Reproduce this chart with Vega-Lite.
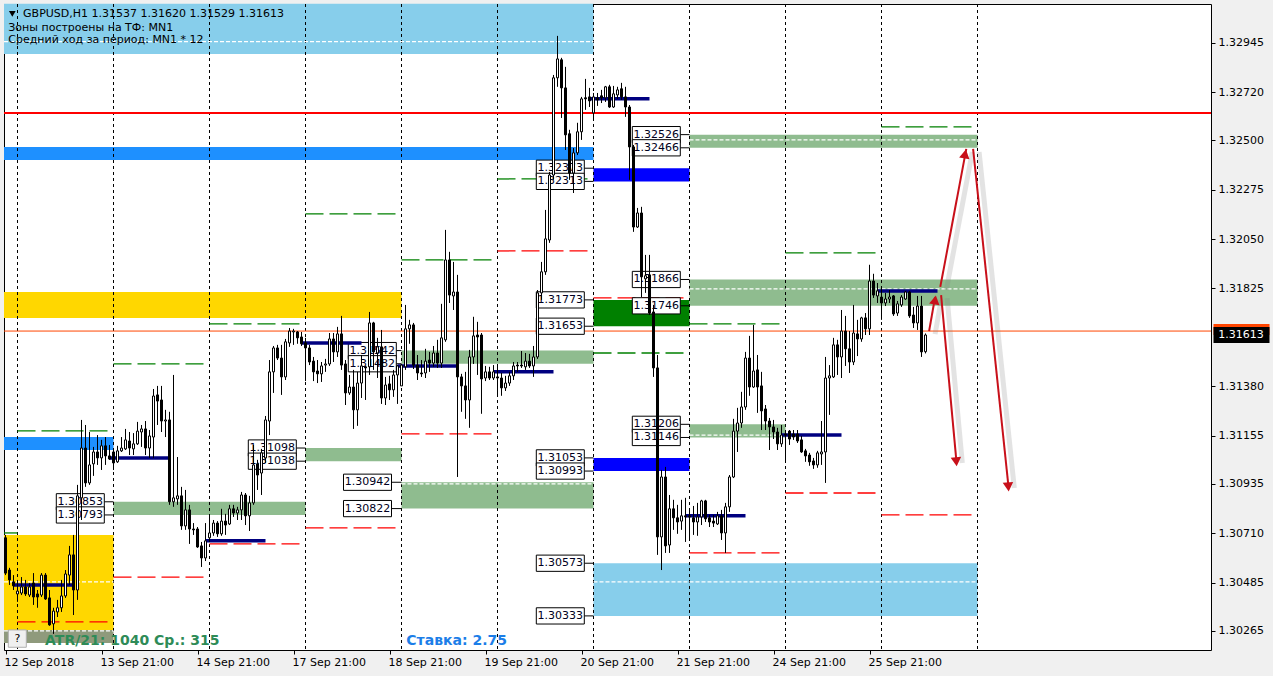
{"$schema":"https://vega.github.io/schema/vega-lite/v6.json","width":1207,"height":646,"autosize":{"type":"none"},"padding":{"left":4,"top":4,"right":62,"bottom":26},"background":"#f0f0f0","config":{"view":{"fill":"white","stroke":"black","strokeWidth":1},"font":"DejaVu Sans"},"resolve":{"scale":{"color":"independent"}},
"datasets":{
"zones":[
{"x1":-3.375,"x2":144,"y1":1.33122,"y2":1.32894,"kind":"sky"},
{"x1":-3.375,"x2":144,"y1":1.3247,"y2":1.32411,"kind":"dodger"},
{"x1":-3.375,"x2":96,"y1":1.31809,"y2":1.31691,"kind":"gold"},
{"x1":-3.375,"x2":24,"y1":1.31148,"y2":1.31089,"kind":"dodger"},
{"x1":-3.375,"x2":24,"y1":1.30702,"y2":1.30269,"kind":"gold"},
{"x1":-3.375,"x2":24,"y1":1.30269,"y2":1.30209,"kind":"olive"},
{"x1":24,"x2":72,"y1":1.30853,"y2":1.30793,"kind":"sage"},
{"x1":72,"x2":96,"y1":1.31098,"y2":1.31038,"kind":"sage"},
{"x1":96,"x2":144,"y1":1.31542,"y2":1.31482,"kind":"sage"},
{"x1":96,"x2":144,"y1":1.30942,"y2":1.30822,"kind":"sage"},
{"x1":144,"x2":168,"y1":1.32373,"y2":1.32313,"kind":"blue"},
{"x1":144,"x2":168,"y1":1.31053,"y2":1.30993,"kind":"blue"},
{"x1":144,"x2":168,"y1":1.31773,"y2":1.31653,"kind":"green"},
{"x1":168,"x2":240,"y1":1.32526,"y2":1.32466,"kind":"sage"},
{"x1":168,"x2":240,"y1":1.31866,"y2":1.31746,"kind":"sage"},
{"x1":168,"x2":192,"y1":1.31206,"y2":1.31146,"kind":"sage"},
{"x1":144,"x2":240,"y1":1.30573,"y2":1.30333,"kind":"sky"}],
"vlines":[{"t":0},{"t":24},{"t":48},{"t":72},{"t":96},{"t":120},{"t":144},{"t":168},{"t":192},{"t":216},{"t":240}],
"levels":[
{"x1":-3.375,"x2":0,"y":1.30711,"kind":"up"},
{"x1":0,"x2":22.5,"y":1.31176,"kind":"up"},{"x1":24,"x2":46.5,"y":1.31481,"kind":"up"},{"x1":48,"x2":70.5,"y":1.31664,"kind":"up"},{"x1":72,"x2":94.5,"y":1.32165,"kind":"up"},{"x1":96,"x2":118.5,"y":1.31955,"kind":"up"},{"x1":120,"x2":142.5,"y":1.32324,"kind":"up"},{"x1":144,"x2":166.5,"y":1.31531,"kind":"up"},{"x1":168,"x2":190.5,"y":1.31664,"kind":"up"},{"x1":192,"x2":214.5,"y":1.31987,"kind":"up"},{"x1":216,"x2":238.5,"y":1.32561,"kind":"up"},
{"x1":0,"x2":22.5,"y":1.30306,"kind":"down"},{"x1":24,"x2":46.5,"y":1.3051,"kind":"down"},{"x1":48,"x2":70.5,"y":1.30661,"kind":"down"},{"x1":72,"x2":94.5,"y":1.30734,"kind":"down"},{"x1":96,"x2":118.5,"y":1.31162,"kind":"down"},{"x1":120,"x2":142.5,"y":1.31996,"kind":"down"},{"x1":144,"x2":166.5,"y":1.31782,"kind":"down"},{"x1":168,"x2":190.5,"y":1.3062,"kind":"down"},{"x1":192,"x2":214.5,"y":1.30893,"kind":"down"},{"x1":216,"x2":238.5,"y":1.30793,"kind":"down"}],
"mids":[{"x1":-3.375,"x2":144,"y":1.3295},{"x1":-3.375,"x2":24,"y":1.30488},{"x1":-3.375,"x2":24,"y":1.30265},{"x1":96,"x2":144,"y":1.30935},{"x1":168,"x2":240,"y":1.32502},{"x1":168,"x2":240,"y":1.31823},{"x1":168,"x2":192,"y":1.31157},{"x1":144,"x2":240,"y":1.30488}],
"navy":[{"x1":-1,"x2":14,"y":1.30474},{"x1":23,"x2":38,"y":1.31053},{"x1":47,"x2":62,"y":1.30675},{"x1":71,"x2":86,"y":1.31577},{"x1":95,"x2":110,"y":1.31472},{"x1":119,"x2":134,"y":1.31445},{"x1":143,"x2":158,"y":1.32689},{"x1":167,"x2":182,"y":1.30789},{"x1":191,"x2":206,"y":1.31157},{"x1":215,"x2":230,"y":1.31814}],
"tags":[
{"x1":9.7,"x2":21.7,"xc":15.7,"z":24,"p":1.30853,"a":1.3089,"b":1.30816},
{"x1":9.7,"x2":21.7,"xc":15.7,"z":24,"p":1.30793,"a":1.3083,"b":1.30756},
{"x1":57.7,"x2":69.7,"xc":63.7,"z":72,"p":1.31098,"a":1.31135,"b":1.31061},
{"x1":57.7,"x2":69.7,"xc":63.7,"z":72,"p":1.31038,"a":1.31075,"b":1.31001},
{"x1":81.5,"x2":93.5,"xc":87.5,"z":96,"p":1.30942,"a":1.30979,"b":1.30905},
{"x1":81.5,"x2":93.5,"xc":87.5,"z":96,"p":1.30822,"a":1.30859,"b":1.30785},
{"x1":82.7,"x2":94.7,"xc":88.7,"z":96,"p":1.31542,"a":1.31579,"b":1.31505},
{"x1":82.7,"x2":94.7,"xc":88.7,"z":96,"p":1.31482,"a":1.31519,"b":1.31445},
{"x1":129.7,"x2":141.7,"xc":135.7,"z":144,"p":1.31773,"a":1.3181,"b":1.31736},
{"x1":129.7,"x2":141.7,"xc":135.7,"z":144,"p":1.31653,"a":1.3169,"b":1.31616},
{"x1":129.7,"x2":141.7,"xc":135.7,"z":144,"p":1.31053,"a":1.3109,"b":1.31016},
{"x1":129.7,"x2":141.7,"xc":135.7,"z":144,"p":1.30993,"a":1.3103,"b":1.30956},
{"x1":129.7,"x2":141.7,"xc":135.7,"z":144,"p":1.32373,"a":1.3241,"b":1.32336},
{"x1":129.7,"x2":141.7,"xc":135.7,"z":144,"p":1.32313,"a":1.3235,"b":1.32276},
{"x1":129.7,"x2":141.7,"xc":135.7,"z":144,"p":1.30573,"a":1.3061,"b":1.30536},
{"x1":129.7,"x2":141.7,"xc":135.7,"z":144,"p":1.30333,"a":1.3037,"b":1.30296},
{"x1":153.7,"x2":165.7,"xc":159.7,"z":168,"p":1.32526,"a":1.32563,"b":1.32489},
{"x1":153.7,"x2":165.7,"xc":159.7,"z":168,"p":1.32466,"a":1.32503,"b":1.32429},
{"x1":153.7,"x2":165.7,"xc":159.7,"z":168,"p":1.31866,"a":1.31903,"b":1.31829},
{"x1":153.7,"x2":165.7,"xc":159.7,"z":168,"p":1.31746,"a":1.31783,"b":1.31709},
{"x1":153.7,"x2":165.7,"xc":159.7,"z":168,"p":1.31206,"a":1.31243,"b":1.31169},
{"x1":153.7,"x2":165.7,"xc":159.7,"z":168,"p":1.31146,"a":1.31183,"b":1.31109}],
"arrows":[{"x1":227.9,"x2":229.4,"y1":1.31631,"y2":1.31786},{"x1":230.7,"x2":237.2,"y1":1.31832,"y2":1.32461},{"x1":238.9,"x2":247.7,"y1":1.32461,"y2":1.3093},{"x1":230.9,"x2":234.7,"y1":1.31795,"y2":1.31044}],
"shadows":[{"x1":229.4,"x2":230.9,"y1":1.31617,"y2":1.31772},{"x1":232.2,"x2":238.7,"y1":1.31818,"y2":1.32447},{"x1":240.4,"x2":249.2,"y1":1.32447,"y2":1.30916},{"x1":232.4,"x2":236.2,"y1":1.31781,"y2":1.3103}],
"headsUp":[{"x":229.4,"y":1.31773},{"x":236.9,"y":1.32438}],
"headsDown":[{"x":247.7,"y":1.30921},{"x":234.7,"y":1.31035}],
"candles":[
{"t":-3,"o":1.30689,"c":1.30528,"h":1.30702,"l":1.30519},{"t":-2,"o":1.30542,"c":1.30497,"h":1.30552,"l":1.30474},{"t":-1,"o":1.30488,"c":1.3047,"h":1.30519,"l":1.30451},
{"t":0,"o":1.30433,"c":1.30446,"h":1.30497,"l":1.30397},{"t":1,"o":1.30437,"c":1.30465,"h":1.3051,"l":1.30428},{"t":2,"o":1.30465,"c":1.30433,"h":1.30497,"l":1.30424},{"t":3,"o":1.30428,"c":1.30465,"h":1.30483,"l":1.30419},{"t":4,"o":1.30483,"c":1.30419,"h":1.30528,"l":1.30383},{"t":5,"o":1.30433,"c":1.30419,"h":1.30451,"l":1.3037},{"t":6,"o":1.30428,"c":1.30519,"h":1.30528,"l":1.30419},{"t":7,"o":1.30519,"c":1.3041,"h":1.30528,"l":1.30406},{"t":8,"o":1.30415,"c":1.30292,"h":1.30451,"l":1.30288},{"t":9,"o":1.30297,"c":1.30355,"h":1.3037,"l":1.30251},
{"t":10,"o":1.30351,"c":1.3037,"h":1.30406,"l":1.30328},{"t":11,"o":1.3037,"c":1.30424,"h":1.30497,"l":1.30351},{"t":12,"o":1.30424,"c":1.30524,"h":1.30542,"l":1.30415},{"t":13,"o":1.30519,"c":1.30611,"h":1.30652,"l":1.30474},{"t":14,"o":1.30611,"c":1.30451,"h":1.30702,"l":1.30337},{"t":15,"o":1.30451,"c":1.3088,"h":1.3093,"l":1.30406},{"t":16,"o":1.30871,"c":1.31098,"h":1.31226,"l":1.3077},{"t":17,"o":1.31098,"c":1.30939,"h":1.31203,"l":1.30921},{"t":18,"o":1.30939,"c":1.31021,"h":1.31171,"l":1.3093},{"t":19,"o":1.31026,"c":1.3108,"h":1.31103,"l":1.30971},
{"t":20,"o":1.3108,"c":1.31053,"h":1.31157,"l":1.31021},{"t":21,"o":1.31053,"c":1.31108,"h":1.31135,"l":1.30998},{"t":22,"o":1.31108,"c":1.31062,"h":1.31148,"l":1.31021},{"t":23,"o":1.31062,"c":1.31048,"h":1.31112,"l":1.31044},{"t":24,"o":1.3108,"c":1.3103,"h":1.31094,"l":1.30998},{"t":25,"o":1.31035,"c":1.31085,"h":1.31108,"l":1.3103},{"t":26,"o":1.31085,"c":1.31098,"h":1.31148,"l":1.3108},{"t":27,"o":1.31094,"c":1.31135,"h":1.31185,"l":1.31089},{"t":28,"o":1.3113,"c":1.31098,"h":1.31171,"l":1.31066},{"t":29,"o":1.31094,"c":1.31117,"h":1.31166,"l":1.31066},
{"t":30,"o":1.31117,"c":1.31175,"h":1.31217,"l":1.31112},{"t":31,"o":1.31171,"c":1.31185,"h":1.31203,"l":1.31103},{"t":32,"o":1.31185,"c":1.31098,"h":1.31221,"l":1.31066},{"t":33,"o":1.31098,"c":1.31153,"h":1.3118,"l":1.31053},{"t":34,"o":1.31148,"c":1.31335,"h":1.31367,"l":1.31053},{"t":35,"o":1.3134,"c":1.31312,"h":1.31381,"l":1.31203},{"t":36,"o":1.31317,"c":1.31221,"h":1.31381,"l":1.31171},{"t":37,"o":1.31221,"c":1.31226,"h":1.31272,"l":1.31148},{"t":38,"o":1.31226,"c":1.30853,"h":1.31263,"l":1.30839},{"t":39,"o":1.30853,"c":1.30871,"h":1.31431,"l":1.3083},
{"t":40,"o":1.30866,"c":1.3088,"h":1.31057,"l":1.30839},{"t":41,"o":1.3088,"c":1.30743,"h":1.30921,"l":1.30725},{"t":42,"o":1.30743,"c":1.30816,"h":1.30907,"l":1.30725},{"t":43,"o":1.30816,"c":1.30729,"h":1.30839,"l":1.30661},{"t":44,"o":1.30729,"c":1.30725,"h":1.30756,"l":1.30702},{"t":45,"o":1.30729,"c":1.30647,"h":1.30738,"l":1.30643},{"t":46,"o":1.30652,"c":1.30597,"h":1.3067,"l":1.30556},{"t":47,"o":1.30597,"c":1.30675,"h":1.30756,"l":1.30583},{"t":48,"o":1.30689,"c":1.30711,"h":1.30788,"l":1.3067},{"t":49,"o":1.30711,"c":1.30756,"h":1.3077,"l":1.30698},
{"t":50,"o":1.30756,"c":1.30707,"h":1.30765,"l":1.30693},{"t":51,"o":1.30707,"c":1.30765,"h":1.30821,"l":1.30698},{"t":52,"o":1.30765,"c":1.30747,"h":1.30798,"l":1.30702},{"t":53,"o":1.30752,"c":1.30821,"h":1.30839,"l":1.30747},{"t":54,"o":1.30821,"c":1.30802,"h":1.30839,"l":1.30784},{"t":55,"o":1.30802,"c":1.30816,"h":1.3083,"l":1.3077},{"t":56,"o":1.30816,"c":1.30884,"h":1.30898,"l":1.3077},{"t":57,"o":1.30884,"c":1.30789,"h":1.30893,"l":1.30747},{"t":58,"o":1.30789,"c":1.30848,"h":1.3088,"l":1.3072},{"t":59,"o":1.30848,"c":1.31021,"h":1.31112,"l":1.30839},
{"t":60,"o":1.31026,"c":1.30975,"h":1.31044,"l":1.30907},{"t":61,"o":1.30984,"c":1.31076,"h":1.31094,"l":1.30884},{"t":62,"o":1.31053,"c":1.31226,"h":1.31244,"l":1.3103},{"t":63,"o":1.31221,"c":1.31445,"h":1.31499,"l":1.31157},{"t":64,"o":1.31445,"c":1.31554,"h":1.31563,"l":1.31349},{"t":65,"o":1.31554,"c":1.31508,"h":1.31568,"l":1.31499},{"t":66,"o":1.31508,"c":1.31422,"h":1.31568,"l":1.3134},{"t":67,"o":1.31422,"c":1.31582,"h":1.31595,"l":1.31408},{"t":68,"o":1.31577,"c":1.31631,"h":1.31645,"l":1.31559},{"t":69,"o":1.31627,"c":1.31631,"h":1.31641,"l":1.31568},
{"t":70,"o":1.31627,"c":1.316,"h":1.31631,"l":1.31573},{"t":71,"o":1.31604,"c":1.31573,"h":1.31627,"l":1.31563},{"t":72,"o":1.31577,"c":1.31554,"h":1.316,"l":1.31403},{"t":73,"o":1.31554,"c":1.3149,"h":1.31568,"l":1.31476},{"t":74,"o":1.31494,"c":1.31445,"h":1.31513,"l":1.31403},{"t":75,"o":1.31449,"c":1.31436,"h":1.31499,"l":1.31394},{"t":76,"o":1.31436,"c":1.31472,"h":1.3149,"l":1.31399},{"t":77,"o":1.31476,"c":1.31481,"h":1.31504,"l":1.31445},{"t":78,"o":1.31481,"c":1.31595,"h":1.31622,"l":1.31472},{"t":79,"o":1.31595,"c":1.31536,"h":1.31622,"l":1.3149},
{"t":80,"o":1.31536,"c":1.31618,"h":1.3165,"l":1.31513},{"t":81,"o":1.31618,"c":1.31476,"h":1.317,"l":1.31454},{"t":82,"o":1.31481,"c":1.31349,"h":1.31499,"l":1.31294},{"t":83,"o":1.31349,"c":1.31376,"h":1.31431,"l":1.3134},{"t":84,"o":1.31376,"c":1.31272,"h":1.31454,"l":1.31185},{"t":85,"o":1.31272,"c":1.31394,"h":1.31445,"l":1.31199},{"t":86,"o":1.31394,"c":1.31472,"h":1.31522,"l":1.31326},{"t":87,"o":1.31468,"c":1.31463,"h":1.31472,"l":1.31317},{"t":88,"o":1.31468,"c":1.31668,"h":1.31718,"l":1.31431},{"t":89,"o":1.31668,"c":1.31536,"h":1.31673,"l":1.31454},
{"t":90,"o":1.31531,"c":1.31559,"h":1.316,"l":1.31417},{"t":91,"o":1.31559,"c":1.31326,"h":1.31636,"l":1.31299},{"t":92,"o":1.31326,"c":1.31385,"h":1.31422,"l":1.31294},{"t":93,"o":1.3139,"c":1.31363,"h":1.31427,"l":1.31317},{"t":94,"o":1.31363,"c":1.31431,"h":1.31454,"l":1.31331},{"t":95,"o":1.31431,"c":1.31472,"h":1.31476,"l":1.31299},{"t":96,"o":1.31381,"c":1.31476,"h":1.31481,"l":1.31381},{"t":97,"o":1.31468,"c":1.31641,"h":1.3175,"l":1.31454},{"t":98,"o":1.31641,"c":1.31659,"h":1.31682,"l":1.31573},{"t":99,"o":1.31659,"c":1.31476,"h":1.31668,"l":1.31458},
{"t":100,"o":1.31476,"c":1.3144,"h":1.31522,"l":1.31408},{"t":101,"o":1.3144,"c":1.31436,"h":1.31499,"l":1.31422},{"t":102,"o":1.3144,"c":1.31494,"h":1.3155,"l":1.31417},{"t":103,"o":1.31499,"c":1.31485,"h":1.31536,"l":1.31445},{"t":104,"o":1.31485,"c":1.31531,"h":1.31563,"l":1.31468},{"t":105,"o":1.31531,"c":1.31485,"h":1.31591,"l":1.31463},{"t":106,"o":1.31485,"c":1.316,"h":1.31755,"l":1.31463},{"t":107,"o":1.31591,"c":1.31955,"h":1.32092,"l":1.31582},{"t":108,"o":1.31955,"c":1.31795,"h":1.31992,"l":1.31759},{"t":109,"o":1.31791,"c":1.31809,"h":1.31946,"l":1.31727},
{"t":110,"o":1.31809,"c":1.31422,"h":1.31887,"l":1.30966},{"t":111,"o":1.31422,"c":1.31381,"h":1.31436,"l":1.31263},{"t":112,"o":1.31381,"c":1.31317,"h":1.31445,"l":1.31231},{"t":113,"o":1.31317,"c":1.31513,"h":1.31545,"l":1.3119},{"t":114,"o":1.31513,"c":1.31609,"h":1.31696,"l":1.31481},{"t":115,"o":1.31613,"c":1.31604,"h":1.31673,"l":1.31431},{"t":116,"o":1.31613,"c":1.31413,"h":1.31622,"l":1.31254},{"t":117,"o":1.31417,"c":1.31445,"h":1.31472,"l":1.31403},{"t":118,"o":1.31445,"c":1.31417,"h":1.31468,"l":1.31408},{"t":119,"o":1.31417,"c":1.31445,"h":1.31476,"l":1.31408},
{"t":120,"o":1.31422,"c":1.31417,"h":1.31476,"l":1.31331},{"t":121,"o":1.31417,"c":1.31372,"h":1.3144,"l":1.31336},{"t":122,"o":1.31372,"c":1.31394,"h":1.31427,"l":1.31358},{"t":123,"o":1.31394,"c":1.31427,"h":1.31445,"l":1.31381},{"t":124,"o":1.31427,"c":1.31472,"h":1.3149,"l":1.31408},{"t":125,"o":1.31476,"c":1.31472,"h":1.3149,"l":1.31445},{"t":126,"o":1.31476,"c":1.31472,"h":1.3154,"l":1.31463},{"t":127,"o":1.31468,"c":1.31494,"h":1.31531,"l":1.31454},{"t":128,"o":1.31494,"c":1.31472,"h":1.31527,"l":1.31463},{"t":129,"o":1.31472,"c":1.31513,"h":1.31563,"l":1.31422},
{"t":130,"o":1.31513,"c":1.31805,"h":1.31818,"l":1.31504},{"t":131,"o":1.31805,"c":1.31901,"h":1.31946,"l":1.31773},{"t":132,"o":1.31901,"c":1.32051,"h":1.32183,"l":1.31887},{"t":133,"o":1.32046,"c":1.32342,"h":1.32356,"l":1.32033},{"t":134,"o":1.32342,"c":1.32785,"h":1.32798,"l":1.3232},{"t":135,"o":1.32785,"c":1.32871,"h":1.32976,"l":1.32744},{"t":136,"o":1.32867,"c":1.32739,"h":1.32876,"l":1.32602},{"t":137,"o":1.32739,"c":1.32525,"h":1.32835,"l":1.32456},{"t":138,"o":1.3253,"c":1.32351,"h":1.32548,"l":1.3232},{"t":139,"o":1.32351,"c":1.32443,"h":1.32465,"l":1.3226},
{"t":140,"o":1.32443,"c":1.32539,"h":1.3258,"l":1.32433},{"t":141,"o":1.32539,"c":1.32689,"h":1.32698,"l":1.32502},{"t":142,"o":1.32694,"c":1.32689,"h":1.3278,"l":1.32639},{"t":143,"o":1.32698,"c":1.3268,"h":1.32739,"l":1.32652},{"t":144,"o":1.32625,"c":1.32698,"h":1.32716,"l":1.32589},{"t":145,"o":1.32694,"c":1.32684,"h":1.32716,"l":1.32657},{"t":146,"o":1.32703,"c":1.32694,"h":1.3273,"l":1.3267},{"t":147,"o":1.32694,"c":1.32744,"h":1.32748,"l":1.32675},{"t":148,"o":1.32744,"c":1.32652,"h":1.32753,"l":1.32648},{"t":149,"o":1.32652,"c":1.32712,"h":1.32748,"l":1.32648},
{"t":150,"o":1.32707,"c":1.3273,"h":1.32744,"l":1.32689},{"t":151,"o":1.32735,"c":1.32698,"h":1.32762,"l":1.32684},{"t":152,"o":1.32698,"c":1.32652,"h":1.32744,"l":1.32607},{"t":153,"o":1.32652,"c":1.3247,"h":1.32661,"l":1.3232},{"t":154,"o":1.3247,"c":1.32105,"h":1.32479,"l":1.32083},{"t":155,"o":1.32105,"c":1.32169,"h":1.32192,"l":1.32101},{"t":156,"o":1.32169,"c":1.31878,"h":1.32197,"l":1.31786},{"t":157,"o":1.31869,"c":1.31883,"h":1.31978,"l":1.31805},{"t":158,"o":1.31887,"c":1.31713,"h":1.31978,"l":1.31704},{"t":159,"o":1.31718,"c":1.31463,"h":1.3175,"l":1.31422},
{"t":160,"o":1.31463,"c":1.30693,"h":1.31522,"l":1.30611},{"t":161,"o":1.30693,"c":1.30966,"h":1.30998,"l":1.30542},{"t":162,"o":1.30966,"c":1.30652,"h":1.31012,"l":1.3062},{"t":163,"o":1.30656,"c":1.30821,"h":1.30884,"l":1.3062},{"t":164,"o":1.30821,"c":1.3078,"h":1.30862,"l":1.30725},{"t":165,"o":1.3078,"c":1.30761,"h":1.30839,"l":1.30707},{"t":166,"o":1.30765,"c":1.30789,"h":1.30862,"l":1.30725},{"t":167,"o":1.30789,"c":1.30784,"h":1.30871,"l":1.3067},{"t":168,"o":1.30789,"c":1.30784,"h":1.30816,"l":1.30675},{"t":169,"o":1.3078,"c":1.30761,"h":1.30834,"l":1.30702},
{"t":170,"o":1.30761,"c":1.30784,"h":1.30848,"l":1.30698},{"t":171,"o":1.30784,"c":1.30857,"h":1.30862,"l":1.30747},{"t":172,"o":1.30857,"c":1.30775,"h":1.30862,"l":1.30761},{"t":173,"o":1.3078,"c":1.30761,"h":1.30793,"l":1.30738},{"t":174,"o":1.30765,"c":1.30756,"h":1.30793,"l":1.30738},{"t":175,"o":1.30752,"c":1.30789,"h":1.30807,"l":1.30747},{"t":176,"o":1.30789,"c":1.30711,"h":1.30816,"l":1.30679},{"t":177,"o":1.30711,"c":1.3083,"h":1.30848,"l":1.3062},{"t":178,"o":1.3083,"c":1.30966,"h":1.30975,"l":1.30807},{"t":179,"o":1.30966,"c":1.31175,"h":1.31231,"l":1.30961},
{"t":180,"o":1.31175,"c":1.31212,"h":1.31281,"l":1.3108},{"t":181,"o":1.31212,"c":1.31285,"h":1.31354,"l":1.3119},{"t":182,"o":1.31285,"c":1.31508,"h":1.31536,"l":1.31272},{"t":183,"o":1.31508,"c":1.31376,"h":1.31609,"l":1.31336},{"t":184,"o":1.31376,"c":1.31449,"h":1.31659,"l":1.31372},{"t":185,"o":1.31454,"c":1.31376,"h":1.31522,"l":1.31258},{"t":186,"o":1.31381,"c":1.31267,"h":1.31445,"l":1.3118},{"t":187,"o":1.31276,"c":1.31221,"h":1.31294,"l":1.3118},{"t":188,"o":1.31221,"c":1.31194,"h":1.31235,"l":1.31089},{"t":189,"o":1.31194,"c":1.31171,"h":1.31226,"l":1.31139},
{"t":190,"o":1.31171,"c":1.31117,"h":1.3119,"l":1.31089},{"t":191,"o":1.31117,"c":1.31157,"h":1.31203,"l":1.31103},{"t":192,"o":1.31162,"c":1.31157,"h":1.3118,"l":1.31035},{"t":193,"o":1.31175,"c":1.31139,"h":1.3118,"l":1.31112},{"t":194,"o":1.31162,"c":1.31148,"h":1.3118,"l":1.31135},{"t":195,"o":1.31162,"c":1.3113,"h":1.3118,"l":1.31121},{"t":196,"o":1.31135,"c":1.3108,"h":1.31153,"l":1.31076},{"t":197,"o":1.31085,"c":1.31062,"h":1.31094,"l":1.31035},{"t":198,"o":1.31066,"c":1.31035,"h":1.31076,"l":1.31017},{"t":199,"o":1.31039,"c":1.31021,"h":1.31053,"l":1.31003},
{"t":200,"o":1.31021,"c":1.31076,"h":1.31085,"l":1.31008},{"t":201,"o":1.31071,"c":1.3108,"h":1.31221,"l":1.31021},{"t":202,"o":1.3108,"c":1.31417,"h":1.31513,"l":1.30939},{"t":203,"o":1.31417,"c":1.31427,"h":1.31476,"l":1.31249},{"t":204,"o":1.31422,"c":1.31568,"h":1.316,"l":1.31417},{"t":205,"o":1.31568,"c":1.31513,"h":1.31591,"l":1.31431},{"t":206,"o":1.31513,"c":1.31631,"h":1.31727,"l":1.31417},{"t":207,"o":1.31631,"c":1.3155,"h":1.317,"l":1.31472},{"t":208,"o":1.3155,"c":1.3149,"h":1.31631,"l":1.3144},{"t":209,"o":1.3149,"c":1.31622,"h":1.3175,"l":1.31476},
{"t":210,"o":1.31618,"c":1.31595,"h":1.31682,"l":1.31517},{"t":211,"o":1.31595,"c":1.31691,"h":1.31696,"l":1.31582},{"t":212,"o":1.31691,"c":1.31641,"h":1.31713,"l":1.31613},{"t":213,"o":1.31641,"c":1.31859,"h":1.31933,"l":1.31613},{"t":214,"o":1.31859,"c":1.31795,"h":1.31892,"l":1.31782},{"t":215,"o":1.31791,"c":1.31814,"h":1.3185,"l":1.31759},{"t":216,"o":1.31786,"c":1.31759,"h":1.31832,"l":1.31682},{"t":217,"o":1.31759,"c":1.31777,"h":1.31805,"l":1.31745},{"t":218,"o":1.31777,"c":1.31786,"h":1.31818,"l":1.31759},{"t":219,"o":1.31791,"c":1.31709,"h":1.31795,"l":1.317},
{"t":220,"o":1.31713,"c":1.31755,"h":1.31768,"l":1.317},{"t":221,"o":1.3175,"c":1.31786,"h":1.31795,"l":1.31741},{"t":222,"o":1.31777,"c":1.31809,"h":1.31814,"l":1.31773},{"t":223,"o":1.31809,"c":1.317,"h":1.31814,"l":1.31691},{"t":224,"o":1.31704,"c":1.31668,"h":1.31741,"l":1.31645},{"t":225,"o":1.31668,"c":1.31745,"h":1.31791,"l":1.31636},{"t":226,"o":1.31745,"c":1.31536,"h":1.31791,"l":1.31513},{"t":227,"o":1.31537,"c":1.31613,"h":1.3162,"l":1.31529}]
},
"layer":[
{"data":{"name":"zones"},"mark":{"type":"rect"},"encoding":{
"x":{"field":"x1","type":"quantitative","title":null,"scale":{"domain":[-3.375,298.375],"nice":false,"zero":false,"padding":0},"axis":{"orient":"bottom","values":[-3,21,45,69,93,117,141,165,189,213],"labelExpr":"['12 Sep 2018','13 Sep 21:00','14 Sep 21:00','17 Sep 21:00','18 Sep 21:00','19 Sep 21:00','20 Sep 21:00','21 Sep 21:00','24 Sep 21:00','25 Sep 21:00'][(datum.value+3)/24]","labelAlign":"left","labelFont":"DejaVu Sans","labelFontSize":11,"labelColor":"black","labelPadding":2,"labelOffset":-1.5,"labelOverlap":false,"labelFlush":false,"tickColor":"black","tickSize":4,"domain":false,"grid":false,"title":null}},
"x2":{"field":"x2"},
"y":{"field":"y1","type":"quantitative","title":null,"scale":{"domain":[1.301776,1.331213],"nice":false,"zero":false},"axis":{"orient":"right","values":[1.32945,1.3272,1.325,1.32275,1.3205,1.31825,1.3138,1.31155,1.30935,1.3071,1.30485,1.30265],"format":".5f","labelFont":"DejaVu Sans","labelFontSize":11,"labelColor":"black","labelPadding":3,"labelOverlap":false,"tickColor":"black","tickSize":4,"domain":false,"grid":false,"title":null}},
"y2":{"field":"y2"},
"color":{"field":"kind","type":"nominal","legend":null,"scale":{"domain":["sky","dodger","gold","olive","sage","blue","green"],"range":["#87CEEB","#1E90FF","#FFD700","#8F9A7C","#8FBC8F","#0000FF","#008000"]}}}},
{"data":{"name":"vlines"},"mark":{"type":"rule","stroke":"black","strokeWidth":1,"strokeDash":[3,3]},"encoding":{"x":{"field":"t","type":"quantitative","title":null,"scale":{"domain":[-3.375,298.375],"nice":false,"zero":false,"padding":0}}}},
{"data":{"name":"levels"},"mark":{"type":"rule","strokeWidth":1.3,"strokeDash":[18,6]},"encoding":{"x":{"field":"x1","type":"quantitative","title":null,"scale":{"domain":[-3.375,298.375],"nice":false,"zero":false,"padding":0}},"x2":{"field":"x2"},"y":{"field":"y","type":"quantitative","title":null,"scale":{"domain":[1.301776,1.331213],"nice":false,"zero":false}},"color":{"field":"kind","type":"nominal","legend":null,"scale":{"domain":["up","down"],"range":["#008000","#FF0000"]}}}},
{"data":{"name":"mids"},"mark":{"type":"rule","stroke":"white","strokeWidth":1.2,"strokeDash":[4,2]},"encoding":{"x":{"field":"x1","type":"quantitative","title":null,"scale":{"domain":[-3.375,298.375],"nice":false,"zero":false,"padding":0}},"x2":{"field":"x2"},"y":{"field":"y","type":"quantitative","title":null,"scale":{"domain":[1.301776,1.331213],"nice":false,"zero":false}}}},
{"data":{"values":[{"y":1.32625}]},"mark":{"type":"rule","stroke":"#FF0000","strokeWidth":2},"encoding":{"y":{"field":"y","type":"quantitative","title":null,"scale":{"domain":[1.301776,1.331213],"nice":false,"zero":false}}}},
{"data":{"values":[{"y":1.31631}]},"mark":{"type":"rule","stroke":"#FF4500","strokeWidth":1},"encoding":{"y":{"field":"y","type":"quantitative","title":null,"scale":{"domain":[1.301776,1.331213],"nice":false,"zero":false}}}},
{"data":{"name":"tags"},"mark":{"type":"rule","stroke":"black","strokeWidth":1},"encoding":{"x":{"field":"x2","type":"quantitative","title":null,"scale":{"domain":[-3.375,298.375],"nice":false,"zero":false,"padding":0}},"x2":{"field":"z"},"y":{"field":"p","type":"quantitative","title":null,"scale":{"domain":[1.301776,1.331213],"nice":false,"zero":false}}}},
{"data":{"name":"tags"},"mark":{"type":"rect","fill":"white","stroke":"black","strokeWidth":1},"encoding":{"x":{"field":"x1","type":"quantitative","title":null,"scale":{"domain":[-3.375,298.375],"nice":false,"zero":false,"padding":0}},"x2":{"field":"x2"},"y":{"field":"a","type":"quantitative","title":null,"scale":{"domain":[1.301776,1.331213],"nice":false,"zero":false}},"y2":{"field":"b"}}},
{"data":{"name":"tags"},"mark":{"type":"text","font":"DejaVu Sans","fontSize":11,"fill":"#000020"},"encoding":{"x":{"field":"xc","type":"quantitative","title":null,"scale":{"domain":[-3.375,298.375],"nice":false,"zero":false,"padding":0}},"y":{"field":"p","type":"quantitative","title":null,"scale":{"domain":[1.301776,1.331213],"nice":false,"zero":false}},"text":{"field":"p","type":"quantitative","format":".5f"}}},
{"data":{"name":"navy"},"mark":{"type":"rule","stroke":"#000080","strokeWidth":3.5},"encoding":{"x":{"field":"x1","type":"quantitative","title":null,"scale":{"domain":[-3.375,298.375],"nice":false,"zero":false,"padding":0}},"x2":{"field":"x2"},"y":{"field":"y","type":"quantitative","title":null,"scale":{"domain":[1.301776,1.331213],"nice":false,"zero":false}}}},
{"data":{"name":"candles"},"mark":{"type":"rule","stroke":"black","strokeWidth":1},"encoding":{"x":{"field":"t","type":"quantitative","title":null,"scale":{"domain":[-3.375,298.375],"nice":false,"zero":false,"padding":0}},"y":{"field":"l","type":"quantitative","title":null,"scale":{"domain":[1.301776,1.331213],"nice":false,"zero":false}},"y2":{"field":"h"}}},
{"data":{"name":"candles"},"mark":{"type":"bar","width":2,"stroke":"black","strokeWidth":1},"encoding":{"x":{"field":"t","type":"quantitative","title":null,"scale":{"domain":[-3.375,298.375],"nice":false,"zero":false,"padding":0}},"y":{"field":"o","type":"quantitative","title":null,"scale":{"domain":[1.301776,1.331213],"nice":false,"zero":false}},"y2":{"field":"c"},"fill":{"condition":{"test":"datum.c>=datum.o","value":"white"},"value":"black"}}},
{"data":{"name":"shadows"},"mark":{"type":"rule","stroke":"#808080","strokeWidth":5,"opacity":0.22},"encoding":{"x":{"field":"x1","type":"quantitative","title":null,"scale":{"domain":[-3.375,298.375],"nice":false,"zero":false,"padding":0}},"x2":{"field":"x2"},"y":{"field":"y1","type":"quantitative","title":null,"scale":{"domain":[1.301776,1.331213],"nice":false,"zero":false}},"y2":{"field":"y2"}}},
{"data":{"name":"arrows"},"mark":{"type":"rule","stroke":"#C8101A","strokeWidth":2},"encoding":{"x":{"field":"x1","type":"quantitative","title":null,"scale":{"domain":[-3.375,298.375],"nice":false,"zero":false,"padding":0}},"x2":{"field":"x2"},"y":{"field":"y1","type":"quantitative","title":null,"scale":{"domain":[1.301776,1.331213],"nice":false,"zero":false}},"y2":{"field":"y2"}}},
{"data":{"name":"headsUp"},"mark":{"type":"point","shape":"triangle-up","filled":true,"fill":"#C8101A","opacity":1,"size":110,"angle":10},"encoding":{"x":{"field":"x","type":"quantitative","title":null,"scale":{"domain":[-3.375,298.375],"nice":false,"zero":false,"padding":0}},"y":{"field":"y","type":"quantitative","title":null,"scale":{"domain":[1.301776,1.331213],"nice":false,"zero":false}}}},
{"data":{"name":"headsDown"},"mark":{"type":"point","shape":"triangle-down","filled":true,"fill":"#C8101A","opacity":1,"size":110,"angle":-5},"encoding":{"x":{"field":"x","type":"quantitative","title":null,"scale":{"domain":[-3.375,298.375],"nice":false,"zero":false,"padding":0}},"y":{"field":"y","type":"quantitative","title":null,"scale":{"domain":[1.301776,1.331213],"nice":false,"zero":false}}}},
{"data":{"values":[{"x":-2.3,"y":1.33012,"s":"Зоны построены на ТФ: MN1"},{"x":-2.3,"y":1.32958,"s":"Средний ход за период: MN1 * 12"},{"x":1.4,"y":1.33076,"s":"GBPUSD,H1  1.31537 1.31620 1.31529 1.31613"}]},"mark":{"type":"text","align":"left","baseline":"middle","font":"DejaVu Sans","fontSize":11,"fill":"black"},"encoding":{"x":{"field":"x","type":"quantitative","title":null,"scale":{"domain":[-3.375,298.375],"nice":false,"zero":false,"padding":0}},"y":{"field":"y","type":"quantitative","title":null,"scale":{"domain":[1.301776,1.331213],"nice":false,"zero":false}},"text":{"field":"s"}}},
{"data":{"values":[{"x":-1.3,"y":1.33076}]},"mark":{"type":"point","shape":"triangle-down","filled":true,"fill":"black","opacity":1,"size":45},"encoding":{"x":{"field":"x","type":"quantitative","title":null,"scale":{"domain":[-3.375,298.375],"nice":false,"zero":false,"padding":0}},"y":{"field":"y","type":"quantitative","title":null,"scale":{"domain":[1.301776,1.331213],"nice":false,"zero":false}}}},
{"data":{"values":[{"x1":-2.3,"x2":2.2,"y1":1.30269,"y2":1.3019}]},"mark":{"type":"rect","fill":"#f0f0f0","stroke":"#b0b0b0","strokeWidth":1},"encoding":{"x":{"field":"x1","type":"quantitative","title":null,"scale":{"domain":[-3.375,298.375],"nice":false,"zero":false,"padding":0}},"x2":{"field":"x2"},"y":{"field":"y1","type":"quantitative","title":null,"scale":{"domain":[1.301776,1.331213],"nice":false,"zero":false}},"y2":{"field":"y2"}}},
{"data":{"values":[{"x":-0.05,"y":1.3023,"s":"?"}]},"mark":{"type":"text","font":"DejaVu Sans","fontSize":11,"fill":"black"},"encoding":{"x":{"field":"x","type":"quantitative","title":null,"scale":{"domain":[-3.375,298.375],"nice":false,"zero":false,"padding":0}},"y":{"field":"y","type":"quantitative","title":null,"scale":{"domain":[1.301776,1.331213],"nice":false,"zero":false}},"text":{"field":"s"}}},
{"data":{"values":[{"x":6.9,"y":1.30218,"s":"ATR/21: 1040  Ср.: 315"}]},"mark":{"type":"text","align":"left","font":"DejaVu Sans","fontWeight":"bold","fontSize":14,"fill":"#2E8B57"},"encoding":{"x":{"field":"x","type":"quantitative","title":null,"scale":{"domain":[-3.375,298.375],"nice":false,"zero":false,"padding":0}},"y":{"field":"y","type":"quantitative","title":null,"scale":{"domain":[1.301776,1.331213],"nice":false,"zero":false}},"text":{"field":"s"}}},
{"data":{"values":[{"x":97.2,"y":1.30218,"s":"Ставка: 2.75"}]},"mark":{"type":"text","align":"left","font":"DejaVu Sans","fontWeight":"bold","fontSize":14,"fill":"#1C7EE8"},"encoding":{"x":{"field":"x","type":"quantitative","title":null,"scale":{"domain":[-3.375,298.375],"nice":false,"zero":false,"padding":0}},"y":{"field":"y","type":"quantitative","title":null,"scale":{"domain":[1.301776,1.331213],"nice":false,"zero":false}},"text":{"field":"s"}}},
{"data":{"values":[{"x1":299,"x2":313,"y1":1.31663,"y2":1.31613}]},"mark":{"type":"rect","fill":"#FF4500"},"encoding":{"x":{"field":"x1","type":"quantitative","title":null,"scale":{"domain":[-3.375,298.375],"nice":false,"zero":false,"padding":0}},"x2":{"field":"x2"},"y":{"field":"y1","type":"quantitative","title":null,"scale":{"domain":[1.301776,1.331213],"nice":false,"zero":false}},"y2":{"field":"y2"}}},
{"data":{"values":[{"x1":299,"x2":313,"y1":1.3165,"y2":1.31577}]},"mark":{"type":"rect","fill":"black"},"encoding":{"x":{"field":"x1","type":"quantitative","title":null,"scale":{"domain":[-3.375,298.375],"nice":false,"zero":false,"padding":0}},"x2":{"field":"x2"},"y":{"field":"y1","type":"quantitative","title":null,"scale":{"domain":[1.301776,1.331213],"nice":false,"zero":false}},"y2":{"field":"y2"}}},
{"data":{"values":[{"x":300.2,"y":1.31613,"s":"1.31613"}]},"mark":{"type":"text","align":"left","font":"DejaVu Sans","fontSize":11,"fill":"white"},"encoding":{"x":{"field":"x","type":"quantitative","title":null,"scale":{"domain":[-3.375,298.375],"nice":false,"zero":false,"padding":0}},"y":{"field":"y","type":"quantitative","title":null,"scale":{"domain":[1.301776,1.331213],"nice":false,"zero":false}},"text":{"field":"s"}}}
]}
